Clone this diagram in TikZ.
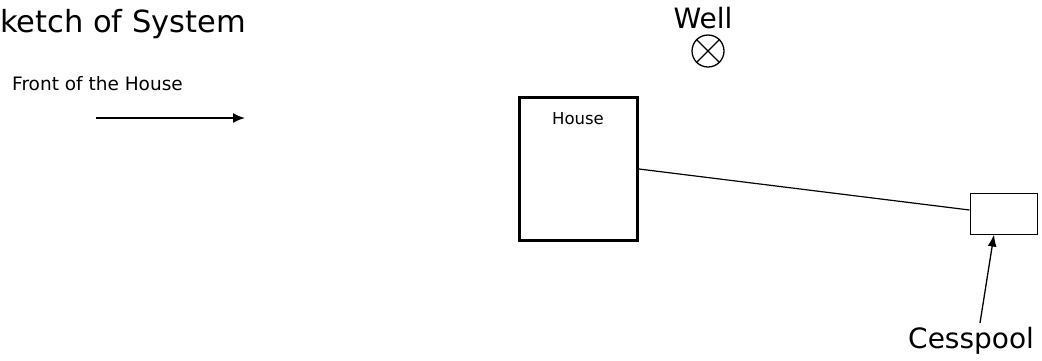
\documentclass[tikz,border=0pt]{standalone}
\usepackage{fontspec}
\setmainfont{DejaVu Sans}
\usetikzlibrary{arrows.meta}
\begin{document}
\begin{tikzpicture}[x=1pt,y=-1pt,
  lbl/.style={inner sep=0pt,anchor=base west},
  box/.style={draw,black,inner sep=0pt}]
\useasboundingbox (0,0) rectangle (1042,360);
\node[lbl,font=\fontsize{30.5}{32}\selectfont] (title) at (0,32) {ketch of System};
\node[lbl,font=\fontsize{18.5}{20}\selectfont] (front) at (12,90) {Front of the House};
\coordinate (fa) at (96,118);
\coordinate (fb) at (245,118);
\draw[-{Latex[length=12pt,width=10pt]},line width=1.8pt] (fa) -- (fb);
\node[lbl,anchor=base,font=\fontsize{28}{30}\selectfont] (welltxt) at (703,28) {Well};
\node[draw,circle,minimum size=32pt,inner sep=0pt,line width=1.3pt] (well) at (708,51) {};
\draw[line width=1.3pt] (well.north west) -- (well.south east);
\draw[line width=1.3pt] (well.north east) -- (well.south west);
\node[box,line width=3pt,minimum width=118pt,minimum height=143pt] (house) at (578.5,169) {};
\node[lbl,anchor=base,font=\fontsize{16.5}{18}\selectfont] (htxt) at (578,124) {House};
\node[box,line width=1pt,minimum width=67pt,minimum height=41pt] (cess) at (1003.5,213.5) {};
\draw[line width=1.2pt] (house.east |- 0,169) -- (cess.west |- 0,210);
\node[lbl,font=\fontsize{28}{30}\selectfont] (ctxt) at (908,348) {Cesspool};
\coordinate (ct) at (980,323);
\draw[-{Latex[length=12pt,width=9pt]},line width=1.3pt] (ct) -- (cess.south -| 994,0);
\end{tikzpicture}
\end{document}
